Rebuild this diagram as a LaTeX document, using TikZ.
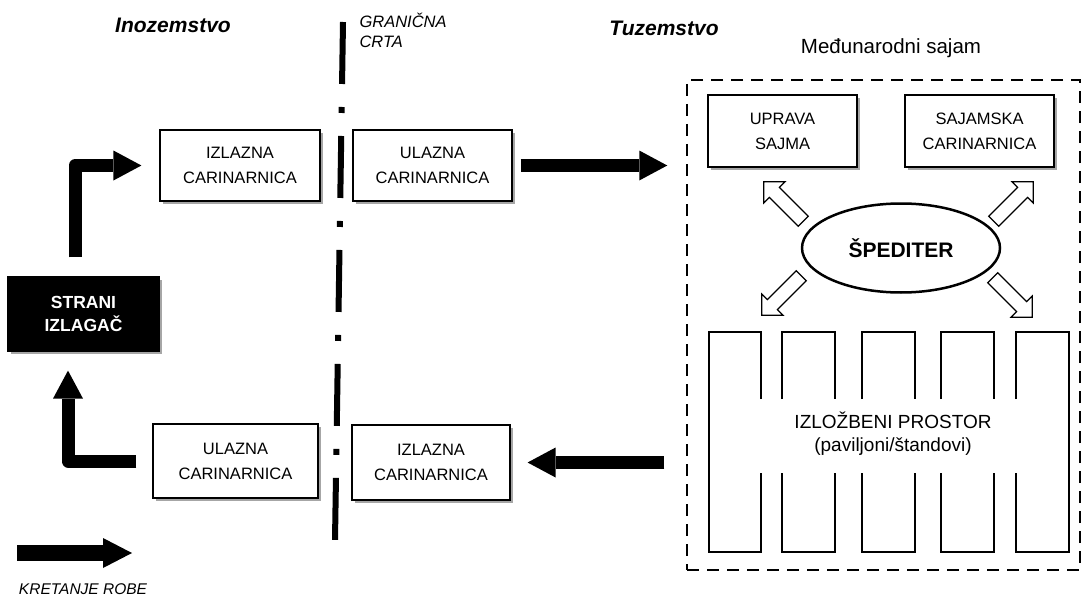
\documentclass[tikz,border=0pt]{standalone}
\usepackage{fontspec}
\setmainfont{Liberation Sans}
\usetikzlibrary{arrows.meta,shapes.geometric,shapes.arrows,shadows}
\begin{document}
\begin{tikzpicture}[x=1pt,y=1pt,
  box/.style={draw, line width=1.2pt, fill=white, inner sep=0pt, align=center,
    font=\fontsize{16.5}{25}\selectfont,
    drop shadow={shadow xshift=3pt,shadow yshift=-3pt,fill=black!35,opacity=1}},
  darkbox/.style={box, fill=black, text=white, font=\bfseries\fontsize{17.5}{23}\selectfont},
  bigarrow/.style={line width=13pt, line join=round,
    -{Triangle[width=30pt,length=28pt,line width=0pt]}},
  hollow/.style={single arrow, draw, line width=1.2pt, fill=white,
    minimum height=56pt, inner sep=6.5pt, single arrow head extend=8pt},
  heading/.style={font=\bfseries\itshape\fontsize{21}{25}\selectfont},
  pillar/.style={line width=1.5pt, line join=miter},
  border/.style={line width=6pt, dash pattern=on 62pt off 23pt on 6pt off 23pt}
]
\useasboundingbox (0,0) rectangle (1086,-599);

% headings
\node[heading] (ino) at (173,-25) {Inozemstvo};
\node[heading] (tuz) at (664,-28) {Tuzemstvo};
\node[anchor=north west, align=left, font=\itshape\fontsize{16.5}{20}\selectfont]
  (gran) at (356,-10) {GRANIČNA\\CRTA};
\node[font=\fontsize{20.5}{24}\selectfont] (msaj) at (891,-48) {Međunarodni sajam};

% border line
\coordinate (bTop) at (343,-22);
\coordinate (bBot) at (335,-540);
\draw[border] (bTop) -- (bBot);

% fair frame
\node[draw, line width=1.5pt, dash pattern=on 12pt off 8pt,
  minimum width=393pt, minimum height=490pt, inner sep=0pt] (sajam) at (883.5,-325) {};

% boxes
\node[box, minimum width=160pt, minimum height=71pt] (izl1) at (240,-165.5) {IZLAZNA\\CARINARNICA};
\node[box, minimum width=159pt, minimum height=71pt] (ul1) at (432.5,-165.5) {ULAZNA\\CARINARNICA};
\node[box, minimum width=165pt, minimum height=74pt] (ul2) at (235.5,-461) {ULAZNA\\CARINARNICA};
\node[box, minimum width=158pt, minimum height=75pt] (izl2) at (431,-462.5) {IZLAZNA\\CARINARNICA};
\node[darkbox, minimum width=151pt, minimum height=74pt] (strani) at (83.5,-314) {STRANI\\IZLAGAČ};
\node[box, minimum width=149pt, minimum height=72pt] (uprava) at (782.5,-131) {UPRAVA\\SAJMA};
\node[box, minimum width=149pt, minimum height=72pt] (scar) at (979.5,-131) {SAJAMSKA\\CARINARNICA};

% speditor
\node[ellipse, draw, line width=2.5pt, minimum width=198pt, minimum height=89pt,
  inner sep=0pt, font=\bfseries\fontsize{21}{25}\selectfont] (sped) at (901,-248) {ŠPEDITER};

% hollow arrows
\node[hollow, rotate=135] (hTL) at (786,-204) {};
\node[hollow, rotate=45] (hTR) at (1011,-204) {};
\node[hollow, rotate=225] (hBL) at (784,-293) {};
\node[hollow, rotate=-45] (hBR) at (1010,-295) {};

% exhibition area
\draw[pillar] (761,-399) -- (761,-332) -- (709,-332) -- (709,-552) -- (761,-552) -- (761,-473);
\foreach \a/\b in {782/835, 862/915, 941/994}{
  \draw[pillar] (\a,-399) -- (\a,-332) -- (\b,-332) -- (\b,-399);
  \draw[pillar] (\a,-473) -- (\a,-552) -- (\b,-552) -- (\b,-473);
}
\draw[pillar] (1016,-399) -- (1016,-332) -- (1069,-332) -- (1069,-552) -- (1016,-552) -- (1016,-473);
\node[align=center, font=\fontsize{19}{23}\selectfont] (prostor) at (893,-434)
  {IZLOŽBENI PROSTOR\\(paviljoni/štandovi)};

% big arrows
\draw[bigarrow, shorten <=19pt, shorten >=18pt] ([xshift=-8.5pt]strani.north) |- (izl1.west);
\draw[bigarrow, shorten <=16pt, shorten >=19pt] (ul2.west) -| ([xshift=-15.5pt]strani.south);
\draw[bigarrow, shorten <=8pt, shorten >=19pt] (ul1.east) -- (ul1.east -| sajam.west);
\draw[bigarrow, shorten <=22pt, shorten >=17pt] (izl2.east -| sajam.west) -- (izl2.east);

% legend
\coordinate (leg1) at (17,-553);
\coordinate (leg2) at (132,-553);
\draw[line width=16pt, -{Triangle[width=30pt,length=29pt,line width=0pt]}] (leg1) -- (leg2);
\node[font=\itshape\fontsize{15.5}{18}\selectfont] (legtxt) at (83,-589) {KRETANJE ROBE};
\end{tikzpicture}
\end{document}
